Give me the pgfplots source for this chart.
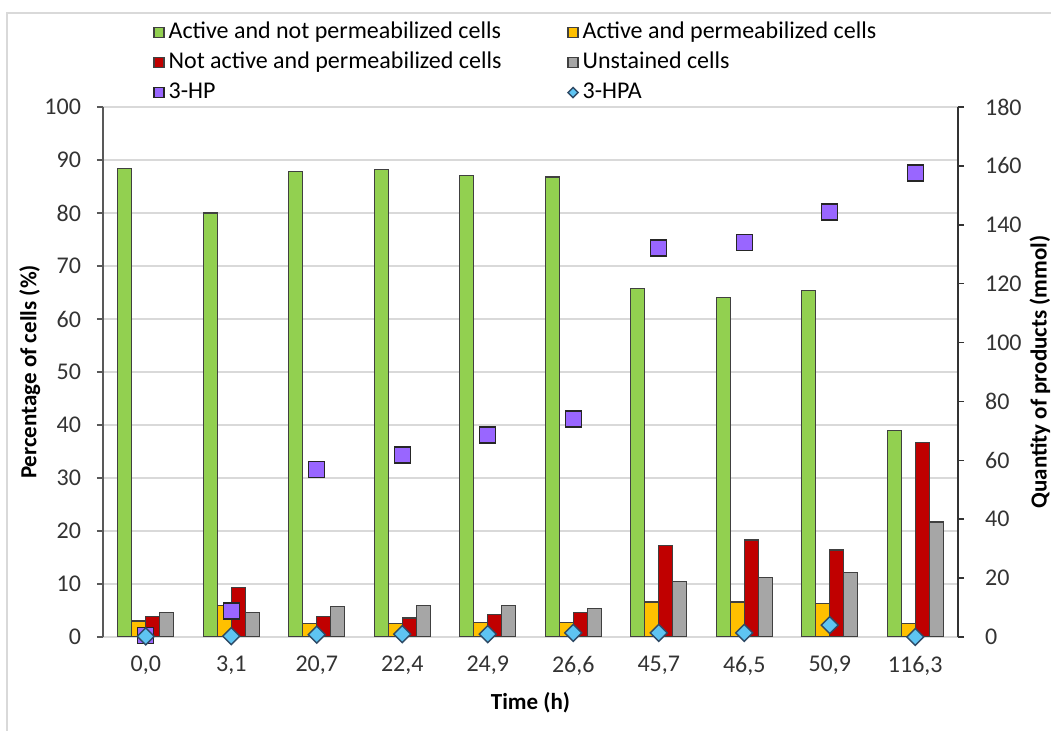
\documentclass[border=0pt]{standalone}
\usepackage{pgfplots}
\pgfplotsset{compat=1.18}
\usepackage{fontspec}
\setmainfont{Carlito}

\definecolor{cgreen}{HTML}{92D050}
\definecolor{cyellow}{HTML}{FFC000}
\definecolor{cred}{HTML}{C00000}
\definecolor{cgray}{HTML}{A6A6A6}
\definecolor{cpurple}{HTML}{9966FF}
\definecolor{cblue}{HTML}{5EC4F2}
\definecolor{cnavy}{HTML}{2E4A66}
\definecolor{gridgray}{HTML}{D9D9D9}
\definecolor{txt}{HTML}{333333}

\pgfplotsset{
  sqleg/.style={legend image code/.code={\draw[##1, line width=0.6pt] (0pt,-2.5pt) rectangle (5pt,2.5pt);}},
  mkleg/.style={legend image code/.code={\draw[##1, mark size=#1] plot coordinates {(2.5pt,0pt)};}},
  bars/.style={draw=black!75, line width=0.6pt},
}

\begin{document}
\begin{tikzpicture}
\useasboundingbox (-51.5pt,-47pt) rectangle (474pt,318.5pt);
\draw[gridgray, line width=0.8pt] (-48pt,-60pt) -- (-48pt,312pt) -- (500pt,312pt);

\begin{axis}[
  at={(0pt,0pt)}, anchor=south west,
  scale only axis, width=427.5pt, height=265pt,
  font=\fontsize{12}{14}\selectfont,
  /pgf/number format/assume math mode=true,
  ybar=0pt, bar width=7pt,
  xmin=-0.5, xmax=9.5, ymin=0, ymax=100,
  xtick={0,...,9},
  xticklabels={{0,0},{3,1},{20,7},{22,4},{24,9},{26,6},{45,7},{46,5},{50,9},{116,3}},
  ytick={0,10,...,100},
  axis y line*=left, axis x line*=bottom,
  x axis line style={-, draw=gridgray, line width=0.8pt},
  y axis line style={-, draw=black!65, line width=0.8pt},
  xtick style={draw=none},
  ytick style={draw=black!65, line width=0.8pt},
  tick align=outside, major tick length=3pt,
  ymajorgrids, grid style={gridgray, line width=0.8pt},
  ticklabel style={text=txt},
  xticklabel style={yshift=-3pt},
  yticklabel style={xshift=-4.5pt},
  xlabel={\bfseries\fontsize{11.5}{13}\selectfont Time (h)},
  ylabel={\bfseries\fontsize{11.5}{13}\selectfont Percentage of cells (\%)},
  xlabel style={at={(axis description cs:0.5,-0.1245)}, anchor=center},
  ylabel style={at={(axis description cs:-0.0855,0.5)}, anchor=center},
]
\addplot[bars, fill=cgreen] coordinates {
  (0,88.4) (1,80.0) (2,87.9) (3,88.2) (4,87.0) (5,86.8) (6,65.7) (7,64.1) (8,65.4) (9,38.9)};
\addplot[bars, fill=cyellow] coordinates {
  (0,3.0) (1,6.0) (2,2.5) (3,2.5) (4,2.8) (5,2.8) (6,6.6) (7,6.6) (8,6.3) (9,2.5)};
\addplot[bars, fill=cred] coordinates {
  (0,3.8) (1,9.3) (2,3.8) (3,3.6) (4,4.2) (5,4.6) (6,17.2) (7,18.3) (8,16.4) (9,36.7)};
\addplot[bars, fill=cgray] coordinates {
  (0,4.6) (1,4.6) (2,5.7) (3,6.0) (4,6.0) (5,5.4) (6,10.4) (7,11.2) (8,12.1) (9,21.7)};
\end{axis}

\begin{axis}[
  at={(0pt,0pt)}, anchor=south west,
  scale only axis, width=427.5pt, height=265pt,
  font=\fontsize{12}{14}\selectfont,
  /pgf/number format/assume math mode=true,
  xmin=-0.5, xmax=9.5, ymin=0, ymax=180,
  ytick={0,20,...,180},
  axis y line*=right, axis x line=none,
  y axis line style={-, draw=black!80, line width=0.8pt},
  ytick style={draw=black!80, line width=0.8pt},
  tick align=outside, major tick length=3pt,
  ticklabel style={text=txt},
  yticklabel style={xshift=7pt},
  ylabel={\bfseries\fontsize{11.5}{13}\selectfont Quantity of products (mmol)},
  ylabel style={at={(axis description cs:1.0959,0.5)}, anchor=center},
  clip=false,
  legend columns=2,
  legend cell align=left,
  legend style={
    draw=none, fill=none, inner sep=0pt,
    at={(axis description cs:0.0585,1.166)}, anchor=north west,
    nodes={inner sep=1pt, text height=8.5pt, text depth=2.7pt},
    row sep=1.8pt,
    /tikz/every odd column/.append style={column sep=1pt},
    /tikz/every even column/.append style={column sep=32pt},
  },
]
\addlegendimage{sqleg, fill=cgreen, draw=black!75}
\addlegendentry{Active and not permeabilized cells}
\addlegendimage{sqleg, fill=cyellow, draw=black!75}
\addlegendentry{Active and permeabilized cells}
\addlegendimage{sqleg, fill=cred, draw=black!75}
\addlegendentry{Not active and permeabilized cells}
\addlegendimage{sqleg, fill=cgray, draw=black!75}
\addlegendentry{Unstained cells}

\addplot[only marks, mark=square*, mark size=4pt,
  mark options={fill=cpurple, draw=black!85, line width=0.7pt},
  mkleg=2.5pt]
  coordinates {
  (0,0.5) (1,8.8) (2,56.8) (3,61.8) (4,68.6) (5,74.0) (6,132.1) (7,134.0) (8,144.4) (9,157.6)};
\addlegendentry{3-HP}
\addplot[only marks, mark=square*, mark size=3pt,
  mark options={rotate=45, fill=cblue, draw=cnavy, line width=0.7pt},
  mkleg=1.8pt]
  coordinates {
  (0,0.2) (1,0.3) (2,0.8) (3,1.0) (4,1.0) (5,1.4) (6,1.4) (7,1.4) (8,4.0) (9,0.0)};
\addlegendentry{3-HPA}
\end{axis}
\end{tikzpicture}
\end{document}
